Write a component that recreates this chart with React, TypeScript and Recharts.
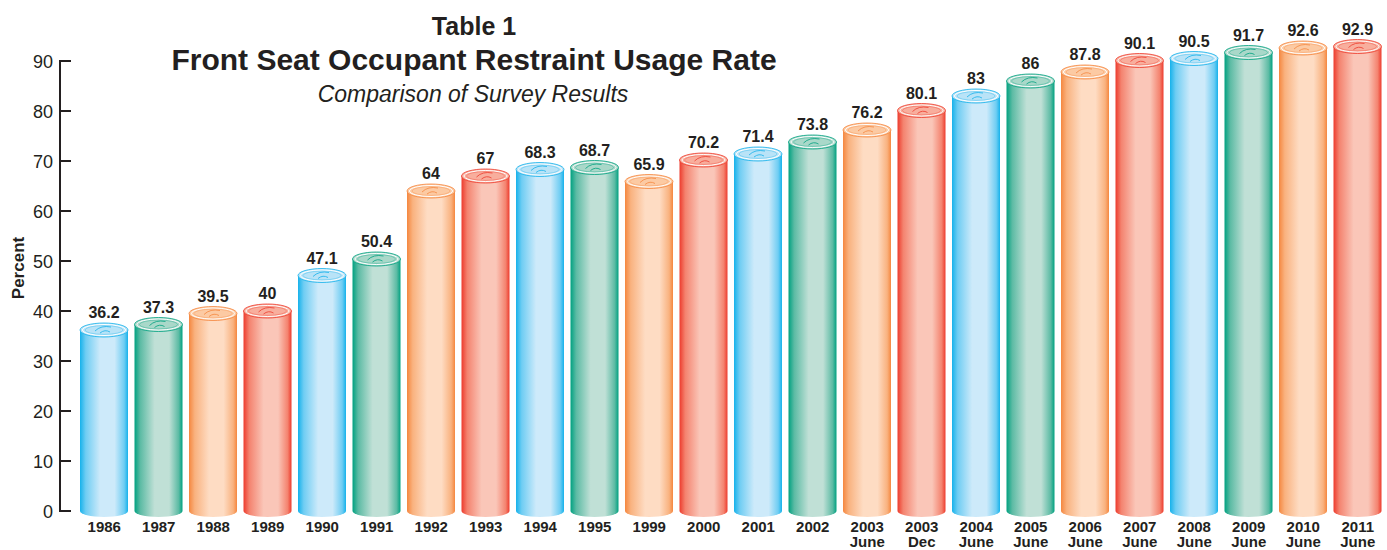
import React from 'react';
import {
  Bar,
  BarChart,
  LabelList,
  ReferenceArea,
  XAxis,
  YAxis,
} from 'recharts';

const categories = [
  '1986', '1987', '1988', '1989', '1990', '1991', '1992', '1993',
  '1994', '1995', '1999', '2000', '2001', '2002', '2003 June', '2003 Dec',
  '2004 June', '2005 June', '2006 June', '2007 June', '2008 June',
  '2009 June', '2010 June', '2011 June',
];

const usageRates = [
  36.2, 37.3, 39.5, 40, 47.1, 50.4, 64, 67, 68.3, 68.7, 65.9, 70.2,
  71.4, 73.8, 76.2, 80.1, 83, 86, 87.8, 90.1, 90.5, 91.7, 92.6, 92.9,
];

const yTicks = [0, 10, 20, 30, 40, 50, 60, 70, 80, 90];

// blue, green, orange, red - repeats along the bars
const palette = [
  { edge: '#16b2eb', mid: '#6fcdf3', light: '#cdeafa', cap: '#b9e3f7' },
  { edge: '#00a180', mid: '#5cbba4', light: '#c0e0d6', cap: '#a9d8c9' },
  { edge: '#f5873f', mid: '#f9b27f', light: '#fedcc3', cap: '#fccaa3' },
  { edge: '#ed3b2d', mid: '#f4836f', light: '#fac6b8', cap: '#f8ae9d' },
];

const data = categories.map((category, i) => ({ category, value: usageRates[i] }));

const FONT = '"Liberation Sans", Arial, Helvetica, sans-serif';
const INK = '#231f20';
const Y_AXIS_WIDTH = 60;

function Cylinder(props: any) {
  const { x, y, width, height, index } = props;
  const i = typeof index === 'number' ? index : categories.indexOf(props.payload?.category);
  const c = palette[i % palette.length];
  const id = `cyl-${i}`;
  const rx = width / 2;
  const ry = 7;
  const cx = x + rx;
  const bottom = y + height;
  return (
    <g>
      <defs>
        <linearGradient id={id} x1="0" y1="0" x2="1" y2="0">
          <stop offset="0%" stopColor={c.edge} />
          <stop offset="12%" stopColor={c.mid} />
          <stop offset="42%" stopColor={c.light} />
          <stop offset="72%" stopColor={c.light} />
          <stop offset="92%" stopColor={c.mid} />
          <stop offset="100%" stopColor={c.edge} />
        </linearGradient>
      </defs>
      <path
        d={`M${x},${y} L${x},${bottom} A${rx},${ry - 1} 0 0 0 ${x + width},${bottom} L${x + width},${y} Z`}
        fill={`url(#${id})`}
      />
      <ellipse cx={cx} cy={y} rx={rx} ry={ry} fill={c.cap} stroke={c.edge} strokeWidth={0.8} />
      <ellipse cx={cx} cy={y} rx={rx - 2.5} ry={ry - 1.5} fill="none" stroke="#ffffff" strokeWidth={1} />
      <ellipse cx={cx} cy={y} rx={rx - 5} ry={ry - 2.6} fill="none" stroke={c.edge} strokeWidth={0.5} opacity={0.7} />
      <path
        d={`M${cx - 9},${y + 1} Q${cx - 3},${y - 5} ${cx + 7},${y - 3} M${cx - 4},${y + 3} Q${cx + 1},${y - 1} ${cx + 6},${y + 2}`}
        fill="none"
        stroke={c.edge}
        strokeWidth={1}
        opacity={0.8}
      />
    </g>
  );
}

function ValueLabel(props: any) {
  const { x, y, width, value } = props;
  return (
    <text
      x={x + width / 2}
      y={y - 12}
      textAnchor="middle"
      fontFamily={FONT}
      fontWeight="bold"
      fontSize={16}
      fill={INK}
    >
      {value}
    </text>
  );
}

function CategoryTick(props: any) {
  const { x, y, payload } = props;
  const [year, sub] = String(payload.value).split(' ');
  return (
    <text textAnchor="middle" fontFamily={FONT} fontWeight="bold" fontSize={15} fill={INK}>
      <tspan x={x} y={y + 21}>{year}</tspan>
      {sub && <tspan x={x} y={y + 36}>{sub}</tspan>}
    </text>
  );
}

function PercentTick(props: any) {
  const { x, y, payload } = props;
  return (
    <g>
      <line x1={x} y1={y} x2={x + 11} y2={y} stroke={INK} strokeWidth={2} />
      <text x={x - 7} y={y + 6.5} textAnchor="end" fontFamily={FONT} fontSize={18} fill={INK}>
        {payload.value}
      </text>
    </g>
  );
}

// vertical axis line, only from 0 up to 90
function AxisLine(props: any) {
  const { y, height } = props;
  return (
    <line
      x1={Y_AXIS_WIDTH}
      y1={y - 1}
      x2={Y_AXIS_WIDTH}
      y2={y + height + 1}
      stroke={INK}
      strokeWidth={2}
    />
  );
}

export default function App() {
  return (
    <div style={{ position: 'absolute', left: 0, top: 0, width: 1387, height: 550, background: '#fff' }}>
      <BarChart
        width={1387}
        height={550}
        data={data}
        margin={{ top: 11, right: 0, bottom: 0, left: 0 }}
        barSize={48}
      >
        <XAxis
          dataKey="category"
          height={39}
          axisLine={false}
          tickLine={false}
          tickSize={0}
          tickMargin={0}
          interval={0}
          padding={{ left: 17, right: 2 }}
          tick={<CategoryTick />}
        />
        <YAxis
          width={Y_AXIS_WIDTH}
          domain={[0, 100]}
          ticks={yTicks}
          axisLine={false}
          tickLine={false}
          tickSize={0}
          tickMargin={0}
          tick={<PercentTick />}
        />
        <ReferenceArea y1={0} y2={90} shape={<AxisLine />} />
        <Bar dataKey="value" shape={<Cylinder />} isAnimationActive={false}>
          <LabelList dataKey="value" content={<ValueLabel />} />
        </Bar>
      </BarChart>
      <svg
        width={1387}
        height={550}
        style={{ position: 'absolute', left: 0, top: 0, pointerEvents: 'none' }}
      >
        <text x={474} y={35} textAnchor="middle" fontFamily={FONT} fontWeight="bold" fontSize={25} fill={INK}>
          Table 1
        </text>
        <text x={474} y={70} textAnchor="middle" fontFamily={FONT} fontWeight="bold" fontSize={30} fill={INK}>
          Front Seat Occupant Restraint Usage Rate
        </text>
        <text x={473} y={102} textAnchor="middle" fontFamily={FONT} fontStyle="italic" fontSize={23} fill={INK}>
          Comparison of Survey Results
        </text>
        <text
          x={0}
          y={0}
          transform="translate(24,268) rotate(-90)"
          textAnchor="middle"
          fontFamily={FONT}
          fontWeight="bold"
          fontSize={17}
          fill={INK}
        >
          Percent
        </text>
      </svg>
    </div>
  );
}
